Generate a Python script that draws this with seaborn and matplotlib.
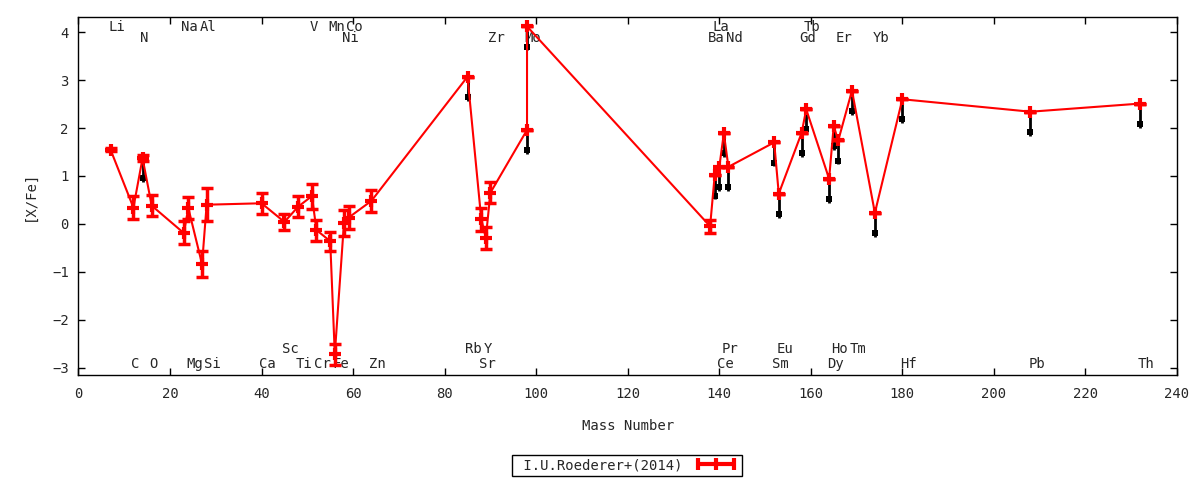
import matplotlib
matplotlib.use("Agg")
import matplotlib.pyplot as plt
from matplotlib.lines import Line2D
import seaborn as sns
import pandas as pd

# element, mass number (most abundant isotope), [X/Fe], error, upper limit?
elements = ["Li", "C", "N", "O", "Na", "Mg", "Al", "Si", "Ca", "Sc", "Ti", "V",
            "Cr", "Mn", "Fe", "Ni", "Co", "Zn", "Rb", "Sr", "Y", "Zr", "Mo", "Tc",
            "Ba", "La", "Ce", "Pr", "Nd", "Sm", "Eu", "Gd", "Tb", "Dy", "Ho", "Er",
            "Tm", "Yb", "Hf", "Pb", "Th"]
mass = [7, 12, 14, 16, 23, 24, 27, 28, 40, 45, 48, 51,
        52, 55, 56, 58, 59, 64, 85, 88, 89, 90, 98, 98,
        138, 139, 140, 141, 142, 152, 153, 158, 159, 164, 165, 166,
        169, 174, 180, 208, 232]
xfe = [1.55, 0.34, 1.37, 0.38, -0.19, 0.33, -0.84, 0.40, 0.43, 0.04, 0.36, 0.58,
       -0.13, -0.36, -2.72, 0.01, 0.13, 0.48, 3.07, 0.10, -0.29, 0.65, 1.96, 4.12,
       -0.05, 1.01, 1.18, 1.89, 1.19, 1.70, 0.63, 1.90, 2.39, 0.94, 2.04, 1.74,
       2.78, 0.23, 2.60, 2.34, 2.51]
err = [0.03, 0.24, 0.06, 0.22, 0.24, 0.23, 0.27, 0.35, 0.22, 0.16, 0.22, 0.26,
       0.22, 0.20, 0.22, 0.27, 0.24, 0.23, 0.0, 0.24, 0.23, 0.22, 0.0, 0.0,
       0.14, 0.0, 0.0, 0.0, 0.0, 0.0, 0.0, 0.0, 0.0, 0.0, 0.0, 0.0,
       0.0, 0.0, 0.0, 0.0, 0.0]
upper = [False, False, True, False, False, False, False, False, False, False, False, False,
         False, False, False, False, False, False, True, False, False, False, True, True,
         False, True, True, True, True, True, True, True, True, True, True, True,
         True, True, True, True, True]

# element labels along the top and bottom of the frame
top1 = ["Li", "Na", "Al", "V", "Mn", "Co", "La", "Tb"]
top2 = ["N", "Ni", "Zr", "Mo", "Ba", "Nd", "Gd", "Er", "Yb"]
bot1 = ["Sc", "Rb", "Y", "Pr", "Eu", "Ho", "Tm"]
bot2 = ["C", "O", "Mg", "Si", "Ca", "Ti", "Cr", "Fe", "Zn", "Sr", "Ce", "Sm",
        "Dy", "Hf", "Pb", "Th"]

df = pd.DataFrame({"el": elements, "mass": mass, "xfe": xfe, "err": err, "upper": upper})
lim = df[df["upper"]]

sns.set_style("ticks")
plt.rcParams["font.family"] = ["DejaVu Sans Mono"]
plt.rcParams["font.size"] = 10

fig = plt.figure(figsize=(12, 4.8), dpi=100)
ax = fig.add_axes([0.0654, 0.219, 0.9154, 0.745])

# upper-limit arrows
ax.vlines(lim["mass"], lim["xfe"] - 0.5, lim["xfe"], color="black", lw=2, zorder=2)
ax.scatter(lim["mass"], lim["xfe"] - 0.42, marker="s", s=16, color="black",
           linewidths=0, zorder=2)

ax.errorbar(df["mass"], df["xfe"], yerr=df["err"], fmt="none", ecolor="red",
            elinewidth=2.5, capsize=4, capthick=2.5, zorder=3)
sns.lineplot(data=df, x="mass", y="xfe", sort=False, estimator=None, ax=ax,
             color="red", lw=1.5, marker="+", markersize=8, markeredgewidth=3,
             markeredgecolor="red", zorder=4)

lookup = dict(zip(elements, mass))
for names, yy in [(top1, 4.11), (top2, 3.88), (bot1, -2.61), (bot2, -2.92)]:
    for n in names:
        ax.text(lookup[n] - 0.5, yy, n, ha="left", va="center", fontsize=10, zorder=1)

ax.set_xlim(0, 240)
ax.set_ylim(-3.15, 4.31)
ax.set_xticks(range(0, 241, 20))
ax.set_yticks(range(-3, 5))
ax.tick_params(direction="in", top=True, right=True, length=5, width=1,
               labelsize=10, color="black")
ax.tick_params(axis="x", pad=9)
ax.tick_params(axis="y", pad=7)
for s in ax.spines.values():
    s.set_color("black")
    s.set_linewidth(1)

ax.set_xlabel("Mass Number", fontsize=10)
ax.set_ylabel("[X/Fe]", fontsize=10)
ax.xaxis.set_label_coords(0.5, -0.123)
ax.yaxis.set_label_coords(-0.038, 0.5)

handle = Line2D([0], [0], color="red", lw=3, marker="|", markersize=9,
                markeredgewidth=3)
leg = ax.legend([handle], [" I.U.Roederer+(2014)"], loc="center",
                bbox_to_anchor=(0.499, -0.253), numpoints=3, markerfirst=False,
                fancybox=False, edgecolor="black", framealpha=1,
                handlelength=3.2, borderpad=0.25, fontsize=10)
leg.get_frame().set_linewidth(1)

fig.savefig("out.png", dpi=100)
